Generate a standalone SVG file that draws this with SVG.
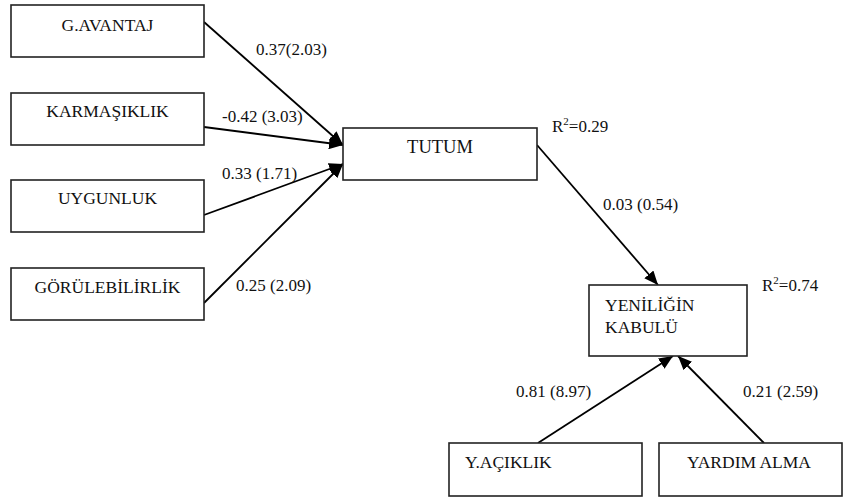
<svg xmlns="http://www.w3.org/2000/svg" width="843" height="498" viewBox="0 0 843 498">
<defs>
<marker id="ah" markerUnits="userSpaceOnUse" markerWidth="16" markerHeight="12" refX="14" refY="6" orient="auto">
<path d="M0,0 L14,6 L0,12 Z" fill="#000"/>
</marker>
<style>
.box{fill:#fff;stroke:#222;stroke-width:1.6}
.t{font-family:'Liberation Serif','Times New Roman',serif;font-size:17px;fill:#111}
.n{font-size:17.5px}
.c{text-anchor:middle}
.ln{stroke:#000;stroke-width:1.8;fill:none;marker-end:url(#ah)}
</style>
</defs>
<rect width="843" height="498" fill="#fff"/>
<g id="connectors">
<line class="ln" x1="204" y1="22" x2="343" y2="145"/>
<line class="ln" x1="204" y1="127" x2="343" y2="145"/>
<line class="ln" x1="204" y1="215" x2="343" y2="164"/>
<line class="ln" x1="204" y1="303" x2="343" y2="164"/>
<line class="ln" x1="537" y1="145" x2="658" y2="285"/>
<line class="ln" x1="538" y1="443" x2="673" y2="356"/>
<line class="ln" x1="764" y1="443" x2="678" y2="356"/>
</g>
<g id="labels">
<text class="t" x="256" y="55">0.37(2.03)</text>
<text class="t" x="222" y="122">-0.42 (3.03)</text>
<text class="t" x="222" y="179">0.33 (1.71)</text>
<text class="t" x="236" y="291">0.25 (2.09)</text>
<text class="t" x="552" y="132">R<tspan font-size="11" dy="-7">2</tspan><tspan dy="7">=0.29</tspan></text>
<text class="t" x="603" y="210">0.03 (0.54)</text>
<text class="t" x="762" y="291">R<tspan font-size="11" dy="-7">2</tspan><tspan dy="7">=0.74</tspan></text>
<text class="t" x="516" y="397">0.81 (8.97)</text>
<text class="t" x="743" y="397">0.21 (2.59)</text>
</g>
<g id="gavantaj"><rect class="box" x="11" y="5" width="193" height="52"/><text class="t n c" x="107.5" y="31">G.AVANTAJ</text></g>
<g id="karmasiklik"><rect class="box" x="11" y="93" width="193" height="52"/><text class="t n c" x="107.5" y="117">KARMAŞIKLIK</text></g>
<g id="uygunluk"><rect class="box" x="11" y="180" width="193" height="52"/><text class="t n c" x="107.5" y="204">UYGUNLUK</text></g>
<g id="gorulebilirlik"><rect class="box" x="11" y="268" width="193" height="52"/><text class="t n c" x="107.5" y="293">GÖRÜLEBİLİRLİK</text></g>
<g id="tutum"><rect class="box" x="343" y="128" width="194" height="52"/><text class="t c" x="440" y="153" style="font-size:18.5px">TUTUM</text></g>
<g id="yenilik"><rect class="box" x="589" y="285" width="158" height="71"/><text class="t n" x="605" y="311">YENİLİĞİN</text><text class="t n" x="605" y="333">KABULÜ</text></g>
<g id="yaciklik"><rect class="box" x="449" y="443" width="193" height="53"/><text class="t n" x="465" y="468">Y.AÇIKLIK</text></g>
<g id="yardim"><rect class="box" x="659" y="443" width="183" height="53"/><text class="t n" x="687" y="468">YARDIM ALMA</text></g>
</svg>
